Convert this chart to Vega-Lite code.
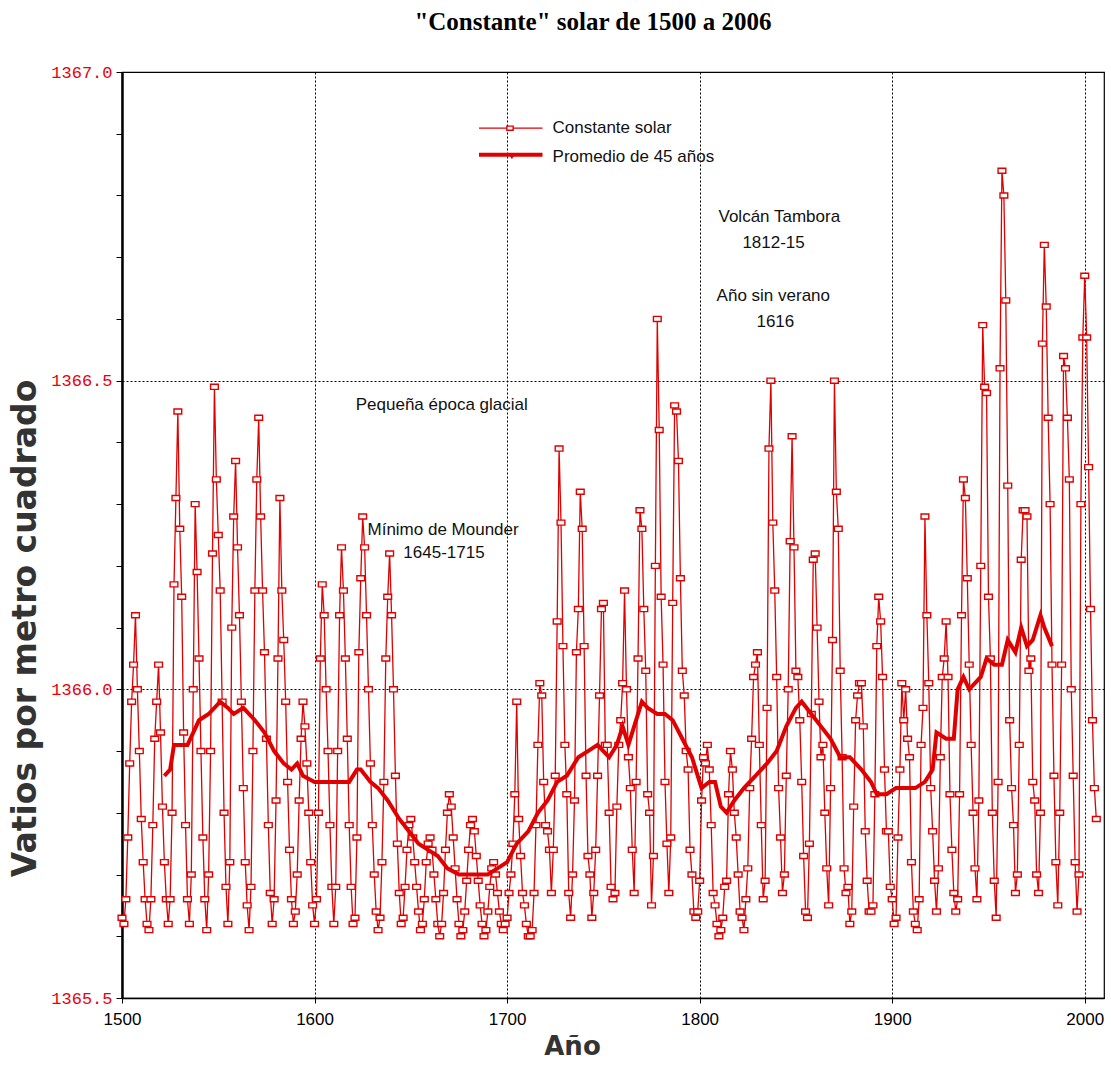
{
"$schema": "https://vega.github.io/schema/vega-lite/v6.json",
"width": 982, "height": 926,
"autosize": {"type": "none"},
"padding": {"left": 122, "top": 72, "right": 7, "bottom": 72},
"background": "white",
"title": {"text": "\"Constante\" solar de 1500 a 2006", "font": "Liberation Serif", "fontSize": 25, "fontWeight": "bold", "color": "black", "offset": 28, "anchor": "middle", "dx": -20},
"config": {"view": {"stroke": "black", "strokeWidth": 1.2}},
"datasets": {
"tsi": [
{"year":1500,"v":1365.63},{"year":1501,"v":1365.62},{"year":1502,"v":1365.66},{"year":1503,"v":1365.76},{"year":1504,"v":1365.88},{"year":1505,"v":1365.98},{"year":1506,"v":1366.04},{"year":1507,"v":1366.12},{"year":1508,"v":1366.00},{"year":1509,"v":1365.90},
{"year":1510,"v":1365.79},{"year":1511,"v":1365.72},{"year":1512,"v":1365.66},{"year":1513,"v":1365.62},{"year":1514,"v":1365.61},{"year":1515,"v":1365.66},{"year":1516,"v":1365.78},{"year":1517,"v":1365.92},{"year":1518,"v":1365.98},{"year":1519,"v":1366.04},
{"year":1520,"v":1365.93},{"year":1521,"v":1365.81},{"year":1522,"v":1365.72},{"year":1523,"v":1365.66},{"year":1524,"v":1365.62},{"year":1525,"v":1365.66},{"year":1526,"v":1365.80},{"year":1527,"v":1366.17},{"year":1528,"v":1366.31},{"year":1529,"v":1366.45},
{"year":1530,"v":1366.26},{"year":1531,"v":1366.15},{"year":1532,"v":1365.93},{"year":1533,"v":1365.78},{"year":1534,"v":1365.66},{"year":1535,"v":1365.62},{"year":1536,"v":1365.70},{"year":1537,"v":1366.00},{"year":1538,"v":1366.30},{"year":1539,"v":1366.19},
{"year":1540,"v":1366.05},{"year":1541,"v":1365.90},{"year":1542,"v":1365.76},{"year":1543,"v":1365.66},{"year":1544,"v":1365.61},{"year":1545,"v":1365.70},{"year":1546,"v":1365.90},{"year":1547,"v":1366.22},{"year":1548,"v":1366.49},{"year":1549,"v":1366.34},
{"year":1550,"v":1366.25},{"year":1551,"v":1366.16},{"year":1552,"v":1365.98},{"year":1553,"v":1365.80},{"year":1554,"v":1365.68},{"year":1555,"v":1365.62},{"year":1556,"v":1365.72},{"year":1557,"v":1366.10},{"year":1558,"v":1366.28},{"year":1559,"v":1366.37},
{"year":1560,"v":1366.23},{"year":1561,"v":1366.12},{"year":1562,"v":1365.98},{"year":1563,"v":1365.84},{"year":1564,"v":1365.72},{"year":1565,"v":1365.65},{"year":1566,"v":1365.61},{"year":1567,"v":1365.68},{"year":1568,"v":1365.90},{"year":1569,"v":1366.16},
{"year":1570,"v":1366.34},{"year":1571,"v":1366.44},{"year":1572,"v":1366.28},{"year":1573,"v":1366.16},{"year":1574,"v":1366.06},{"year":1575,"v":1365.92},{"year":1576,"v":1365.78},{"year":1577,"v":1365.67},{"year":1578,"v":1365.62},{"year":1579,"v":1365.66},
{"year":1580,"v":1365.82},{"year":1581,"v":1366.05},{"year":1582,"v":1366.31},{"year":1583,"v":1366.16},{"year":1584,"v":1366.08},{"year":1585,"v":1365.98},{"year":1586,"v":1365.85},{"year":1587,"v":1365.74},{"year":1588,"v":1365.66},{"year":1589,"v":1365.62},
{"year":1590,"v":1365.64},{"year":1591,"v":1365.70},{"year":1592,"v":1365.82},{"year":1593,"v":1365.92},{"year":1594,"v":1365.98},{"year":1595,"v":1365.94},{"year":1596,"v":1365.88},{"year":1597,"v":1365.80},{"year":1598,"v":1365.72},{"year":1599,"v":1365.65},
{"year":1600,"v":1365.62},{"year":1601,"v":1365.66},{"year":1602,"v":1365.80},{"year":1603,"v":1366.05},{"year":1604,"v":1366.17},{"year":1605,"v":1366.12},{"year":1606,"v":1366.00},{"year":1607,"v":1365.90},{"year":1608,"v":1365.78},{"year":1609,"v":1365.68},
{"year":1610,"v":1365.62},{"year":1611,"v":1365.68},{"year":1612,"v":1365.90},{"year":1613,"v":1366.12},{"year":1614,"v":1366.23},{"year":1615,"v":1366.16},{"year":1616,"v":1366.05},{"year":1617,"v":1365.92},{"year":1618,"v":1365.78},{"year":1619,"v":1365.68},
{"year":1620,"v":1365.62},{"year":1621,"v":1365.63},{"year":1622,"v":1365.76},{"year":1623,"v":1366.06},{"year":1624,"v":1366.18},{"year":1625,"v":1366.28},{"year":1626,"v":1366.23},{"year":1627,"v":1366.12},{"year":1628,"v":1366.00},{"year":1629,"v":1365.88},
{"year":1630,"v":1365.78},{"year":1631,"v":1365.70},{"year":1632,"v":1365.64},{"year":1633,"v":1365.61},{"year":1634,"v":1365.63},{"year":1635,"v":1365.72},{"year":1636,"v":1365.85},{"year":1637,"v":1366.05},{"year":1638,"v":1366.15},{"year":1639,"v":1366.22},
{"year":1640,"v":1366.12},{"year":1641,"v":1366.00},{"year":1642,"v":1365.86},{"year":1643,"v":1365.75},{"year":1644,"v":1365.67},{"year":1645,"v":1365.62},{"year":1646,"v":1365.63},{"year":1647,"v":1365.68},{"year":1648,"v":1365.74},{"year":1649,"v":1365.78},
{"year":1650,"v":1365.79},{"year":1651,"v":1365.76},{"year":1652,"v":1365.72},{"year":1653,"v":1365.68},{"year":1654,"v":1365.64},{"year":1655,"v":1365.61},{"year":1656,"v":1365.62},{"year":1657,"v":1365.66},{"year":1658,"v":1365.72},{"year":1659,"v":1365.75},
{"year":1660,"v":1365.76},{"year":1661,"v":1365.74},{"year":1662,"v":1365.70},{"year":1663,"v":1365.66},{"year":1664,"v":1365.62},{"year":1665,"v":1365.60},{"year":1666,"v":1365.62},{"year":1667,"v":1365.67},{"year":1668,"v":1365.74},{"year":1669,"v":1365.80},
{"year":1670,"v":1365.83},{"year":1671,"v":1365.81},{"year":1672,"v":1365.76},{"year":1673,"v":1365.71},{"year":1674,"v":1365.66},{"year":1675,"v":1365.62},{"year":1676,"v":1365.60},{"year":1677,"v":1365.61},{"year":1678,"v":1365.64},{"year":1679,"v":1365.69},
{"year":1680,"v":1365.74},{"year":1681,"v":1365.78},{"year":1682,"v":1365.79},{"year":1683,"v":1365.77},{"year":1684,"v":1365.73},{"year":1685,"v":1365.69},{"year":1686,"v":1365.65},{"year":1687,"v":1365.62},{"year":1688,"v":1365.60},{"year":1689,"v":1365.61},
{"year":1690,"v":1365.64},{"year":1691,"v":1365.68},{"year":1692,"v":1365.71},{"year":1693,"v":1365.72},{"year":1694,"v":1365.70},{"year":1695,"v":1365.67},{"year":1696,"v":1365.64},{"year":1697,"v":1365.62},{"year":1698,"v":1365.61},{"year":1699,"v":1365.62},
{"year":1700,"v":1365.63},{"year":1701,"v":1365.67},{"year":1702,"v":1365.70},{"year":1703,"v":1365.75},{"year":1704,"v":1365.83},{"year":1705,"v":1365.98},{"year":1706,"v":1365.79},{"year":1707,"v":1365.73},{"year":1708,"v":1365.67},{"year":1709,"v":1365.65},
{"year":1710,"v":1365.62},{"year":1711,"v":1365.60},{"year":1712,"v":1365.60},{"year":1713,"v":1365.61},{"year":1714,"v":1365.67},{"year":1715,"v":1365.78},{"year":1716,"v":1365.91},{"year":1717,"v":1366.01},{"year":1718,"v":1365.99},{"year":1719,"v":1365.85},
{"year":1720,"v":1365.78},{"year":1721,"v":1365.77},{"year":1722,"v":1365.74},{"year":1723,"v":1365.67},{"year":1724,"v":1365.74},{"year":1725,"v":1365.86},{"year":1726,"v":1366.11},{"year":1727,"v":1366.39},{"year":1728,"v":1366.27},{"year":1729,"v":1366.07},
{"year":1730,"v":1365.91},{"year":1731,"v":1365.83},{"year":1732,"v":1365.67},{"year":1733,"v":1365.63},{"year":1734,"v":1365.70},{"year":1735,"v":1365.82},{"year":1736,"v":1366.06},{"year":1737,"v":1366.13},{"year":1738,"v":1366.32},{"year":1739,"v":1366.26},
{"year":1740,"v":1366.07},{"year":1741,"v":1365.86},{"year":1742,"v":1365.73},{"year":1743,"v":1365.70},{"year":1744,"v":1365.63},{"year":1745,"v":1365.67},{"year":1746,"v":1365.74},{"year":1747,"v":1365.86},{"year":1748,"v":1365.99},{"year":1749,"v":1366.13},
{"year":1750,"v":1366.14},{"year":1751,"v":1365.91},{"year":1752,"v":1365.91},{"year":1753,"v":1365.80},{"year":1754,"v":1365.68},{"year":1755,"v":1365.66},{"year":1756,"v":1365.67},{"year":1757,"v":1365.81},{"year":1758,"v":1365.91},{"year":1759,"v":1365.95},
{"year":1760,"v":1366.01},{"year":1761,"v":1366.16},{"year":1762,"v":1366.00},{"year":1763,"v":1365.89},{"year":1764,"v":1365.84},{"year":1765,"v":1365.74},{"year":1766,"v":1365.67},{"year":1767,"v":1365.85},{"year":1768,"v":1366.05},{"year":1769,"v":1366.29},
{"year":1770,"v":1366.26},{"year":1771,"v":1366.13},{"year":1772,"v":1366.03},{"year":1773,"v":1365.83},{"year":1774,"v":1365.80},{"year":1775,"v":1365.65},{"year":1776,"v":1365.73},{"year":1777,"v":1366.20},{"year":1778,"v":1366.60},{"year":1779,"v":1366.42},
{"year":1780,"v":1366.15},{"year":1781,"v":1366.04},{"year":1782,"v":1365.85},{"year":1783,"v":1365.75},{"year":1784,"v":1365.67},{"year":1785,"v":1365.76},{"year":1786,"v":1366.14},{"year":1787,"v":1366.46},{"year":1788,"v":1366.45},{"year":1789,"v":1366.37},
{"year":1790,"v":1366.18},{"year":1791,"v":1366.03},{"year":1792,"v":1365.99},{"year":1793,"v":1365.90},{"year":1794,"v":1365.87},{"year":1795,"v":1365.74},{"year":1796,"v":1365.70},{"year":1797,"v":1365.64},{"year":1798,"v":1365.63},{"year":1799,"v":1365.64},
{"year":1800,"v":1365.69},{"year":1801,"v":1365.82},{"year":1802,"v":1365.89},{"year":1803,"v":1365.88},{"year":1804,"v":1365.91},{"year":1805,"v":1365.87},{"year":1806,"v":1365.78},{"year":1807,"v":1365.67},{"year":1808,"v":1365.65},{"year":1809,"v":1365.62},
{"year":1810,"v":1365.60},{"year":1811,"v":1365.61},{"year":1812,"v":1365.63},{"year":1813,"v":1365.68},{"year":1814,"v":1365.69},{"year":1815,"v":1365.83},{"year":1816,"v":1365.90},{"year":1817,"v":1365.87},{"year":1818,"v":1365.80},{"year":1819,"v":1365.76},
{"year":1820,"v":1365.70},{"year":1821,"v":1365.64},{"year":1822,"v":1365.63},{"year":1823,"v":1365.61},{"year":1824,"v":1365.66},{"year":1825,"v":1365.71},{"year":1826,"v":1365.84},{"year":1827,"v":1365.92},{"year":1828,"v":1366.02},{"year":1829,"v":1366.04},
{"year":1830,"v":1366.06},{"year":1831,"v":1365.91},{"year":1832,"v":1365.78},{"year":1833,"v":1365.66},{"year":1834,"v":1365.69},{"year":1835,"v":1365.97},{"year":1836,"v":1366.39},{"year":1837,"v":1366.50},{"year":1838,"v":1366.27},{"year":1839,"v":1366.16},
{"year":1840,"v":1366.02},{"year":1841,"v":1365.84},{"year":1842,"v":1365.76},{"year":1843,"v":1365.67},{"year":1844,"v":1365.70},{"year":1845,"v":1365.86},{"year":1846,"v":1366.00},{"year":1847,"v":1366.24},{"year":1848,"v":1366.41},{"year":1849,"v":1366.23},
{"year":1850,"v":1366.03},{"year":1851,"v":1366.02},{"year":1852,"v":1365.95},{"year":1853,"v":1365.85},{"year":1854,"v":1365.73},{"year":1855,"v":1365.64},{"year":1856,"v":1365.63},{"year":1857,"v":1365.75},{"year":1858,"v":1365.96},{"year":1859,"v":1366.21},
{"year":1860,"v":1366.22},{"year":1861,"v":1366.10},{"year":1862,"v":1365.98},{"year":1863,"v":1365.89},{"year":1864,"v":1365.91},{"year":1865,"v":1365.80},{"year":1866,"v":1365.71},{"year":1867,"v":1365.65},{"year":1868,"v":1365.84},{"year":1869,"v":1366.08},
{"year":1870,"v":1366.50},{"year":1871,"v":1366.32},{"year":1872,"v":1366.26},{"year":1873,"v":1366.03},{"year":1874,"v":1365.89},{"year":1875,"v":1365.71},{"year":1876,"v":1365.67},{"year":1877,"v":1365.68},{"year":1878,"v":1365.62},{"year":1879,"v":1365.64},
{"year":1880,"v":1365.81},{"year":1881,"v":1365.95},{"year":1882,"v":1365.99},{"year":1883,"v":1366.01},{"year":1884,"v":1366.01},{"year":1885,"v":1365.94},{"year":1886,"v":1365.77},{"year":1887,"v":1365.69},{"year":1888,"v":1365.64},{"year":1889,"v":1365.64},
{"year":1890,"v":1365.65},{"year":1891,"v":1365.83},{"year":1892,"v":1366.07},{"year":1893,"v":1366.15},{"year":1894,"v":1366.11},{"year":1895,"v":1366.02},{"year":1896,"v":1365.87},{"year":1897,"v":1365.77},{"year":1898,"v":1365.77},{"year":1899,"v":1365.68},
{"year":1900,"v":1365.66},{"year":1901,"v":1365.62},{"year":1902,"v":1365.63},{"year":1903,"v":1365.76},{"year":1904,"v":1365.87},{"year":1905,"v":1366.01},{"year":1906,"v":1365.95},{"year":1907,"v":1366.00},{"year":1908,"v":1365.92},{"year":1909,"v":1365.89},
{"year":1910,"v":1365.72},{"year":1911,"v":1365.64},{"year":1912,"v":1365.62},{"year":1913,"v":1365.61},{"year":1914,"v":1365.66},{"year":1915,"v":1365.91},{"year":1916,"v":1365.97},{"year":1917,"v":1366.28},{"year":1918,"v":1366.12},{"year":1919,"v":1366.01},
{"year":1920,"v":1365.84},{"year":1921,"v":1365.77},{"year":1922,"v":1365.69},{"year":1923,"v":1365.64},{"year":1924,"v":1365.71},{"year":1925,"v":1365.89},{"year":1926,"v":1366.02},{"year":1927,"v":1366.05},{"year":1928,"v":1366.11},{"year":1929,"v":1366.02},
{"year":1930,"v":1365.83},{"year":1931,"v":1365.74},{"year":1932,"v":1365.67},{"year":1933,"v":1365.64},{"year":1934,"v":1365.66},{"year":1935,"v":1365.83},{"year":1936,"v":1366.12},{"year":1937,"v":1366.34},{"year":1938,"v":1366.31},{"year":1939,"v":1366.18},
{"year":1940,"v":1366.04},{"year":1941,"v":1365.91},{"year":1942,"v":1365.80},{"year":1943,"v":1365.71},{"year":1944,"v":1365.66},{"year":1945,"v":1365.82},{"year":1946,"v":1366.20},{"year":1947,"v":1366.59},{"year":1948,"v":1366.49},{"year":1949,"v":1366.48},
{"year":1950,"v":1366.15},{"year":1951,"v":1366.05},{"year":1952,"v":1365.80},{"year":1953,"v":1365.69},{"year":1954,"v":1365.63},{"year":1955,"v":1365.85},{"year":1956,"v":1366.52},{"year":1957,"v":1366.84},{"year":1958,"v":1366.80},{"year":1959,"v":1366.63},
{"year":1960,"v":1366.33},{"year":1961,"v":1365.95},{"year":1962,"v":1365.84},{"year":1963,"v":1365.78},{"year":1964,"v":1365.67},{"year":1965,"v":1365.70},{"year":1966,"v":1365.91},{"year":1967,"v":1366.21},{"year":1968,"v":1366.29},{"year":1969,"v":1366.29},
{"year":1970,"v":1366.28},{"year":1971,"v":1366.03},{"year":1972,"v":1366.05},{"year":1973,"v":1365.85},{"year":1974,"v":1365.82},{"year":1975,"v":1365.70},{"year":1976,"v":1365.67},{"year":1977,"v":1365.80},{"year":1978,"v":1366.56},{"year":1979,"v":1366.72},
{"year":1980,"v":1366.62},{"year":1981,"v":1366.44},{"year":1982,"v":1366.30},{"year":1983,"v":1366.04},{"year":1984,"v":1365.86},{"year":1985,"v":1365.72},{"year":1986,"v":1365.65},{"year":1987,"v":1365.80},{"year":1988,"v":1366.04},{"year":1989,"v":1366.54},
{"year":1990,"v":1366.52},{"year":1991,"v":1366.44},{"year":1992,"v":1366.34},{"year":1993,"v":1366.00},{"year":1994,"v":1365.86},{"year":1995,"v":1365.72},{"year":1996,"v":1365.64},{"year":1997,"v":1365.70},{"year":1998,"v":1366.30},{"year":1999,"v":1366.57},
{"year":2000,"v":1366.67},{"year":2001,"v":1366.57},{"year":2002,"v":1366.36},{"year":2003,"v":1366.13},{"year":2004,"v":1365.95},{"year":2005,"v":1365.84},{"year":2006,"v":1365.79}
],
"avg": [
{"year":1522,"v":1365.86},{"year":1525,"v":1365.87},{"year":1527,"v":1365.91},{"year":1530,"v":1365.91},{"year":1534,"v":1365.91},{"year":1537,"v":1365.93},{"year":1540,"v":1365.95},{"year":1545,"v":1365.96},{"year":1551,"v":1365.98},{"year":1555,"v":1365.97},
{"year":1558,"v":1365.96},{"year":1563,"v":1365.97},{"year":1569,"v":1365.95},{"year":1574,"v":1365.93},{"year":1579,"v":1365.90},{"year":1584,"v":1365.88},{"year":1588,"v":1365.87},{"year":1591,"v":1365.88},{"year":1594,"v":1365.86},{"year":1600,"v":1365.85},
{"year":1605,"v":1365.85},{"year":1613,"v":1365.85},{"year":1618,"v":1365.85},{"year":1622,"v":1365.87},{"year":1624,"v":1365.87},{"year":1629,"v":1365.85},{"year":1633,"v":1365.84},{"year":1638,"v":1365.82},{"year":1644,"v":1365.79},{"year":1649,"v":1365.77},
{"year":1654,"v":1365.75},{"year":1659,"v":1365.74},{"year":1664,"v":1365.73},{"year":1669,"v":1365.71},{"year":1675,"v":1365.70},{"year":1680,"v":1365.70},{"year":1685,"v":1365.70},{"year":1690,"v":1365.70},{"year":1695,"v":1365.71},{"year":1700,"v":1365.72},
{"year":1705,"v":1365.75},{"year":1711,"v":1365.77},{"year":1716,"v":1365.80},{"year":1721,"v":1365.82},{"year":1726,"v":1365.85},{"year":1731,"v":1365.86},{"year":1737,"v":1365.89},{"year":1742,"v":1365.90},{"year":1747,"v":1365.91},{"year":1750,"v":1365.90},
{"year":1753,"v":1365.89},{"year":1757,"v":1365.91},{"year":1760,"v":1365.94},{"year":1763,"v":1365.91},{"year":1767,"v":1365.95},{"year":1770,"v":1365.98},{"year":1773,"v":1365.97},{"year":1778,"v":1365.96},{"year":1782,"v":1365.96},{"year":1786,"v":1365.95},
{"year":1791,"v":1365.92},{"year":1796,"v":1365.89},{"year":1798,"v":1365.87},{"year":1801,"v":1365.84},{"year":1805,"v":1365.85},{"year":1808,"v":1365.85},{"year":1811,"v":1365.81},{"year":1814,"v":1365.80},{"year":1818,"v":1365.82},{"year":1823,"v":1365.84},
{"year":1829,"v":1365.86},{"year":1835,"v":1365.88},{"year":1840,"v":1365.90},{"year":1845,"v":1365.94},{"year":1850,"v":1365.97},{"year":1853,"v":1365.98},{"year":1858,"v":1365.96},{"year":1863,"v":1365.94},{"year":1868,"v":1365.92},{"year":1873,"v":1365.89},
{"year":1878,"v":1365.89},{"year":1884,"v":1365.87},{"year":1889,"v":1365.85},{"year":1892,"v":1365.83},{"year":1897,"v":1365.83},{"year":1902,"v":1365.84},{"year":1907,"v":1365.84},{"year":1912,"v":1365.84},{"year":1917,"v":1365.85},{"year":1921,"v":1365.87},
{"year":1923,"v":1365.93},{"year":1928,"v":1365.92},{"year":1932,"v":1365.92},{"year":1934,"v":1366.00},{"year":1937,"v":1366.02},{"year":1940,"v":1366.00},{"year":1946,"v":1366.02},{"year":1949,"v":1366.05},{"year":1953,"v":1366.04},{"year":1957,"v":1366.04},
{"year":1960,"v":1366.08},{"year":1964,"v":1366.06},{"year":1967,"v":1366.10},{"year":1970,"v":1366.07},{"year":1973,"v":1366.08},{"year":1977,"v":1366.12},{"year":1979,"v":1366.10},{"year":1983,"v":1366.07}
]
},
"layer": [
{
"data": {"name": "tsi"},
"mark": {"type": "line", "color": "#e00000", "strokeWidth": 1.3},
"encoding": {
"x": {"field": "year", "type": "quantitative", "scale": {"domain": [1500, 2010], "nice": false, "zero": false},
 "axis": {"title": "Año", "values": [1500,1600,1700,1800,1900,2000], "format": "d", "grid": true, "gridColor": "black", "gridDash": [2,2], "gridWidth": 1, "labelFlush": false,
  "domainColor": "black", "domainWidth": 1.5, "tickColor": "black", "tickSize": 5, "labelFont": "Liberation Sans", "labelFontSize": 17, "labelColor": "black", "labelPadding": 8,
  "titleFont": "DejaVu Sans", "titleFontSize": 26, "titleFontWeight": "bold", "titleColor": "#333", "titlePadding": 6, "titleX": 450}},
"y": {"field": "v", "type": "quantitative", "scale": {"domain": [1365.5, 1367.0], "nice": false, "zero": false},
 "axis": {"title": "Vatios por metro cuadrado", "values": [1365.5,1365.6,1365.7,1365.8,1365.9,1366.0,1366.1,1366.2,1366.3,1366.4,1366.5,1366.6,1366.7,1366.8,1366.9,1367.0],
  "labelExpr": "abs(datum.value*2 - round(datum.value*2)) < 0.01 ? format(datum.value, '.1f') : ''",
  "grid": true, "gridColor": "black", "gridDash": [2,2], "gridWidth": 1,
  "gridOpacity": {"condition": {"test": "abs(datum.value*2 - round(datum.value*2)) < 0.01", "value": 1}, "value": 0},
  "domainColor": "black", "domainWidth": 2.5, "tickColor": "black", "tickSize": 6, "labelFont": "Liberation Mono", "labelFontSize": 17, "labelColor": "#e8000b", "labelPadding": 4,
  "titleFont": "DejaVu Sans", "titleFontSize": 33, "titleFontWeight": "bold", "titleColor": "#333", "titlePadding": 8, "titleY": 556}}
}
},
{
"data": {"name": "tsi"},
"mark": {"type": "point", "shape": "M-1,-0.65L1,-0.65L1,0.65L-1,0.65Z", "size": 60, "filled": true, "fill": "white", "stroke": "#e00000", "strokeWidth": 1.4, "opacity": 1},
"encoding": {"x": {"field": "year", "type": "quantitative", "axis": {"title": "Año"}}, "y": {"field": "v", "type": "quantitative", "axis": {"title": "Vatios por metro cuadrado"}}}
},
{
"data": {"name": "avg"},
"mark": {"type": "line", "color": "#e00000", "strokeWidth": 4},
"encoding": {"x": {"field": "year", "type": "quantitative", "axis": {"title": "Año"}}, "y": {"field": "v", "type": "quantitative", "axis": {"title": "Vatios por metro cuadrado"}}}
},
{
"data": {"values": [{}]},
"mark": {"type": "rule", "color": "#e00000", "strokeWidth": 1.3},
"encoding": {"x": {"datum": 1685.4, "type": "quantitative", "axis": {"title": "Año"}}, "x2": {"datum": 1718.4}, "y": {"datum": 1366.909, "type": "quantitative", "axis": {"title": "Vatios por metro cuadrado"}}}
},
{
"data": {"values": [{}]},
"mark": {"type": "point", "shape": "M-1,-0.65L1,-0.65L1,0.65L-1,0.65Z", "size": 40, "filled": true, "fill": "white", "stroke": "#e00000", "strokeWidth": 1.4, "opacity": 1},
"encoding": {"x": {"datum": 1701.5, "type": "quantitative", "axis": {"title": "Año"}}, "y": {"datum": 1366.909, "type": "quantitative", "axis": {"title": "Vatios por metro cuadrado"}}}
},
{
"data": {"values": [{}]},
"mark": {"type": "rule", "color": "#e00000", "strokeWidth": 4},
"encoding": {"x": {"datum": 1685.4, "type": "quantitative", "axis": {"title": "Año"}}, "x2": {"datum": 1718.4}, "y": {"datum": 1366.866, "type": "quantitative", "axis": {"title": "Vatios por metro cuadrado"}}}
},
{
"data": {"values": [{}]},
"mark": {"type": "point", "shape": "triangle-down", "size": 25, "filled": true, "color": "#e00000", "opacity": 1},
"encoding": {"x": {"datum": 1702.5, "type": "quantitative", "axis": {"title": "Año"}}, "y": {"datum": 1366.862, "type": "quantitative", "axis": {"title": "Vatios por metro cuadrado"}}}
},
{
"data": {"values": [{}]},
"mark": {"type": "text", "align": "left", "baseline": "middle", "font": "Liberation Sans", "fontSize": 17, "color": "#111"},
"encoding": {"x": {"datum": 1723.6, "type": "quantitative", "axis": {"title": "Año"}}, "y": {"datum": 1366.909, "type": "quantitative", "axis": {"title": "Vatios por metro cuadrado"}}, "text": {"value": "Constante solar"}}
},
{
"data": {"values": [{}]},
"mark": {"type": "text", "align": "left", "baseline": "middle", "font": "Liberation Sans", "fontSize": 17, "color": "#111"},
"encoding": {"x": {"datum": 1723.6, "type": "quantitative", "axis": {"title": "Año"}}, "y": {"datum": 1366.862, "type": "quantitative", "axis": {"title": "Vatios por metro cuadrado"}}, "text": {"value": "Promedio de 45 años"}}
},
{
"data": {"values": [{}]},
"mark": {"type": "text", "align": "left", "baseline": "middle", "font": "Liberation Sans", "fontSize": 17, "color": "#111"},
"encoding": {"x": {"datum": 1809.8, "type": "quantitative", "axis": {"title": "Año"}}, "y": {"datum": 1366.765, "type": "quantitative", "axis": {"title": "Vatios por metro cuadrado"}}, "text": {"value": "Volcán Tambora"}}
},
{
"data": {"values": [{}]},
"mark": {"type": "text", "align": "left", "baseline": "middle", "font": "Liberation Sans", "fontSize": 17, "color": "#111"},
"encoding": {"x": {"datum": 1822.2, "type": "quantitative", "axis": {"title": "Año"}}, "y": {"datum": 1366.723, "type": "quantitative", "axis": {"title": "Vatios por metro cuadrado"}}, "text": {"value": "1812-15"}}
},
{
"data": {"values": [{}]},
"mark": {"type": "text", "align": "left", "baseline": "middle", "font": "Liberation Sans", "fontSize": 17, "color": "#111"},
"encoding": {"x": {"datum": 1808.8, "type": "quantitative", "axis": {"title": "Año"}}, "y": {"datum": 1366.637, "type": "quantitative", "axis": {"title": "Vatios por metro cuadrado"}}, "text": {"value": "Año sin verano"}}
},
{
"data": {"values": [{}]},
"mark": {"type": "text", "align": "left", "baseline": "middle", "font": "Liberation Sans", "fontSize": 17, "color": "#111"},
"encoding": {"x": {"datum": 1829.5, "type": "quantitative", "axis": {"title": "Año"}}, "y": {"datum": 1366.595, "type": "quantitative", "axis": {"title": "Vatios por metro cuadrado"}}, "text": {"value": "1616"}}
},
{
"data": {"values": [{}]},
"mark": {"type": "text", "align": "left", "baseline": "middle", "font": "Liberation Sans", "fontSize": 17, "color": "#111"},
"encoding": {"x": {"datum": 1621.4, "type": "quantitative", "axis": {"title": "Año"}}, "y": {"datum": 1366.46, "type": "quantitative", "axis": {"title": "Vatios por metro cuadrado"}}, "text": {"value": "Pequeña época glacial"}}
},
{
"data": {"values": [{}]},
"mark": {"type": "text", "align": "left", "baseline": "middle", "font": "Liberation Sans", "fontSize": 17, "color": "#111"},
"encoding": {"x": {"datum": 1627.5, "type": "quantitative", "axis": {"title": "Año"}}, "y": {"datum": 1366.258, "type": "quantitative", "axis": {"title": "Vatios por metro cuadrado"}}, "text": {"value": "Mínimo de Mounder"}}
},
{
"data": {"values": [{}]},
"mark": {"type": "text", "align": "left", "baseline": "middle", "font": "Liberation Sans", "fontSize": 17, "color": "#111"},
"encoding": {"x": {"datum": 1646.1, "type": "quantitative", "axis": {"title": "Año"}}, "y": {"datum": 1366.221, "type": "quantitative", "axis": {"title": "Vatios por metro cuadrado"}}, "text": {"value": "1645-1715"}}
}
]
}
